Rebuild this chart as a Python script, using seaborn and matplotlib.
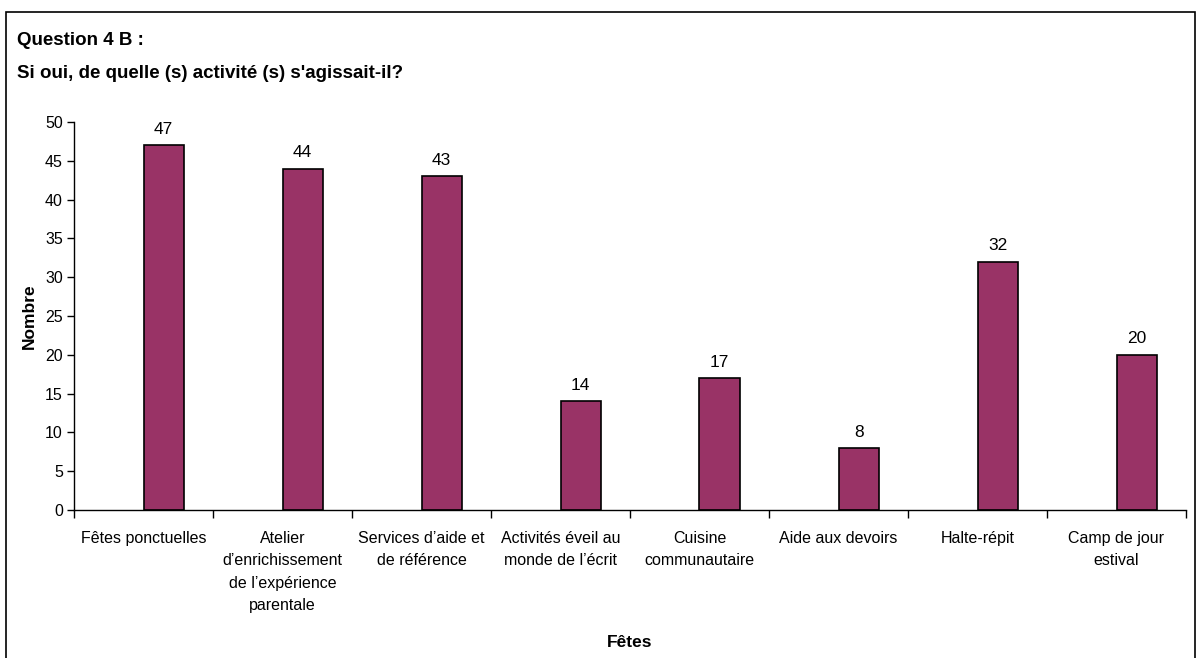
import pandas as pd
import matplotlib
matplotlib.use("Agg")
import matplotlib.pyplot as plt
import matplotlib.patches as mpatches
import seaborn as sns

categories = [
    "Fêtes ponctuelles",
    "Atelier\nd\u2019enrichissement\nde l\u2019expérience\nparentale",
    "Services d\u2019aide et\nde référence",
    "Activités éveil au\nmonde de l\u2019écrit",
    "Cuisine\ncommunautaire",
    "Aide aux devoirs",
    "Halte-répit",
    "Camp de jour\nestival",
]
values = [47, 44, 43, 14, 17, 8, 32, 20]
y_ticks = [0, 5, 10, 15, 20, 25, 30, 35, 40, 45, 50]

title = "Question 4 B :\nSi oui, de quelle (s) activité (s) s'agissait-il?"
xlabel = "Fêtes"
ylabel = "Nombre"

# Excel-style layout: the bar sits to the right of the category centre,
# as if there were an empty first series
df = pd.DataFrame({"cat": categories, "val": values, "serie": "Nombre"})

sns.set_theme(style="white")
plt.rcParams["font.family"] = ["Liberation Sans", "DejaVu Sans"]
plt.rcParams.update({"text.color": "black", "axes.labelcolor": "black",
                     "xtick.color": "black", "ytick.color": "black"})

fig = plt.figure(figsize=(11.98, 6.58), dpi=100)
ax = fig.add_axes([74 / 1198, 1 - 510 / 658, (1186 - 74) / 1198, (510 - 122) / 658])

sns.barplot(data=df, x="cat", y="val", hue="serie", hue_order=["vide", "Nombre"],
            palette={"vide": "#ffffff", "Nombre": "#993366"}, width=0.58,
            dodge=True, saturation=1, edgecolor="black", linewidth=1.2,
            legend=False, ax=ax, gap=0)

for c in ax.containers:
    if len(c) and any(p.get_height() > 0 for p in c):
        ax.bar_label(c, labels=[str(v) for v in values], padding=6, fontsize=12.5)

ax.set_xlim(-0.5, len(categories) - 0.5)
ax.set_ylim(0, 50)
ax.set_yticks(y_ticks)
ax.tick_params(axis="y", labelsize=11.5, length=5, width=1, direction="out", left=True, pad=3)

ax.set_xticks(range(len(categories)))
ax.set_xticklabels(categories, fontsize=11.5, linespacing=1.62, va="top")
ax.set_xticks([i - 0.5 for i in range(len(categories) + 1)], minor=True)
ax.tick_params(axis="x", which="major", length=0, pad=15)
ax.tick_params(axis="x", which="minor", length=6, width=1, direction="out", bottom=True)

for s in ["top", "right"]:
    ax.spines[s].set_visible(False)
for s in ["left", "bottom"]:
    ax.spines[s].set_color("black")
    ax.spines[s].set_linewidth(1)

ax.set_xlabel(xlabel, fontsize=12.5, fontweight="bold", labelpad=16)
ax.set_ylabel(ylabel, fontsize=12.5, fontweight="bold", labelpad=6)

fig.text(17 / 1198, 1 - 32 / 658, title, fontsize=13.5, fontweight="bold",
         va="top", ha="left", linespacing=2.2)

fig.patches.append(mpatches.Rectangle((6 / 1198, -0.05), (1195 - 6) / 1198, 1.05 - 12 / 658,
                                      transform=fig.transFigure, fill=False,
                                      edgecolor="black", linewidth=1.2))

fig.savefig("out.png", dpi=100)
